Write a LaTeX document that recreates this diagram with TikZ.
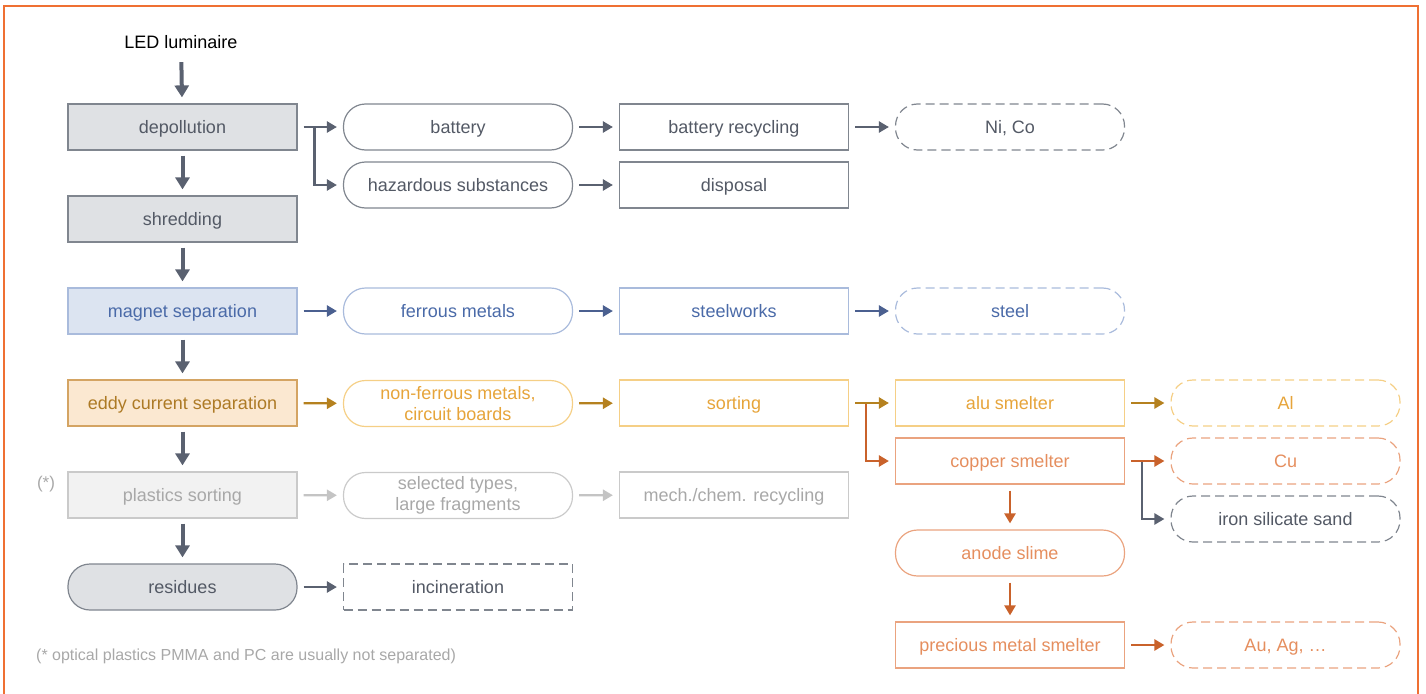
\documentclass[tikz,border=0pt]{standalone}
\usepackage{fontspec}
\setmainfont{Liberation Sans}
\usetikzlibrary{arrows.meta}
\definecolor{frame}{HTML}{EF7033}
\definecolor{gline}{HTML}{80868F}
\definecolor{gfill}{HTML}{DFE1E4}
\definecolor{gtext}{HTML}{535965}
\definecolor{garrow}{HTML}{5A6170}
\definecolor{bline}{HTML}{A9BBDC}
\definecolor{bfill}{HTML}{DCE4F1}
\definecolor{btext}{HTML}{4A6AA8}
\definecolor{barrow}{HTML}{4B6090}
\definecolor{eline}{HTML}{D4A463}
\definecolor{efill}{HTML}{FBE8D1}
\definecolor{etext}{HTML}{AD7A25}
\definecolor{yline}{HTML}{F5CF86}
\definecolor{ytext}{HTML}{E6A43A}
\definecolor{yarrow}{HTML}{B5811F}
\definecolor{cline}{HTML}{EAA37F}
\definecolor{ctext}{HTML}{E58E5E}
\definecolor{carrow}{HTML}{C9622B}
\definecolor{pline}{HTML}{CACACA}
\definecolor{pfill}{HTML}{F2F2F2}
\definecolor{ptext}{HTML}{A8A8A8}
\definecolor{parrow}{HTML}{C4C4C4}
\begin{document}
\begin{tikzpicture}[x=1pt,y=-1pt,
  box/.style={draw, rectangle, minimum width=229pt, minimum height=46pt, inner sep=0pt,
    line width=1.2pt, font=\fontsize{18}{21.5}\selectfont, align=center,
    text height=16.8pt, text depth=3.9pt},
  twoline/.style={text height={}, text depth={}},
  pill/.style={box, rounded corners=22pt},
  dsh/.style={dash pattern=on 9pt off 5pt},
  arr/.style={line width=2.4pt, -{Triangle[length=10pt,width=11pt]}, shorten >=6pt, shorten <=6pt},
  barr/.style={line width=2.4pt, -{Triangle[length=10pt,width=11pt]}, shorten >=6pt},
  varr/.style={line width=4pt, -{Triangle[length=12pt,width=14pt]}, shorten >=6pt, shorten <=5pt},
  gbox/.style={draw=gline, fill=gfill, text=gtext},
  gwbox/.style={draw=gline, text=gtext},
  bbox/.style={draw=bline, fill=bfill, text=btext},
  bwbox/.style={draw=bline, text=btext},
  ebox/.style={draw=eline, fill=efill, text=etext},
  ybox/.style={draw=yline, text=ytext},
  cbox/.style={draw=cline, text=ctext},
  pbox/.style={draw=pline, fill=pfill, text=ptext},
  pwbox/.style={draw=pline, text=ptext},
]
\useasboundingbox (0,0) rectangle (1426,693);
\draw[frame, line width=2pt] (4,695) -- (4,6) -- (1418,6) -- (1418,695);

% column 1
\node[font=\fontsize{18}{21}\selectfont] (led) at (181,42) {LED luminaire};
\node[box, gbox] (dep) at (182.5,127) {depollution};
\node[box, gbox] (shr) at (182.5,219) {shredding};
\node[box, bbox] (mag) at (182.5,311) {magnet separation};
\node[box, ebox] (edd) at (182.5,403) {eddy current separation};
\node[box, pbox] (pla) at (182.5,495) {plastics sorting};
\node[pill, gbox] (res) at (182.5,587) {residues};
\node[text=ptext, font=\fontsize{17}{20}\selectfont] (star) at (46,484) {(*)};
\node[text=ptext, font=\fontsize{16}{19}\selectfont, anchor=west, inner sep=0pt] (foot) at (36,656) {(* optical plastics PMMA and PC are usually not separated)};

% column 2
\node[pill, gwbox] (bat) at (458,127) {battery};
\node[pill, gwbox] (haz) at (458,185) {hazardous substances};
\node[pill, bwbox] (fer) at (458,311) {ferrous metals};
\node[pill, ybox, twoline] (nfm) at (458,403.5) {non-ferrous metals,\\circuit boards};
\node[pill, pwbox, twoline] (sel) at (458,495.5) {selected types,\\large fragments};
\node[box, gwbox, dsh] (inc) at (458,587) {incineration};

% column 3
\node[box, gwbox] (brec) at (734,127) {battery recycling};
\node[box, gwbox] (dis) at (734,185) {disposal};
\node[box, bwbox] (stw) at (734,311) {steelworks};
\node[box, ybox] (sor) at (734,403) {sorting};
\node[box, pwbox] (mech) at (734,495) {mech./chem. recycling};

% column 4
\node[pill, gwbox, dsh] (nico) at (1010,127) {Ni, Co};
\node[pill, bwbox, dsh] (stl) at (1010,311) {steel};
\node[box, ybox] (alu) at (1010,403) {alu smelter};
\node[box, cbox] (cop) at (1010,461) {copper smelter};
\node[pill, cbox] (ano) at (1010,553) {anode slime};
\node[box, cbox] (pre) at (1010,645) {precious metal smelter};

% column 5
\node[pill, ybox, dsh] (al) at (1285.5,403) {Al};
\node[pill, cbox, dsh] (cu) at (1285.5,461) {Cu};
\node[pill, gwbox, dsh] (fes) at (1285.5,519) {iron silicate sand};
\node[pill, cbox, dsh] (au) at (1285.5,645) {Au, Ag, \dots};

% vertical arrows column 1
\draw[varr, garrow, shorten <=10pt] (led) -- (dep);
\draw[varr, garrow] (dep) -- (shr);
\draw[varr, garrow] (shr) -- (mag);
\draw[varr, garrow] (mag) -- (edd);
\draw[varr, garrow] (edd) -- (pla);
\draw[varr, garrow] (pla) -- (res);

% gray rows
\draw[barr, garrow] ([xshift=17pt]dep.east) |- (haz.west);
\draw[arr, garrow] (dep) -- (bat);
\draw[arr, garrow] (bat) -- (brec);
\draw[arr, garrow] (haz) -- (dis);
\draw[arr, garrow] (brec) -- (nico);
\draw[arr, garrow] (res) -- (inc);

% blue row
\draw[arr, barrow] (mag) -- (fer);
\draw[arr, barrow] (fer) -- (stw);
\draw[arr, barrow] (stw) -- (stl);

% gold / copper rows
\draw[arr, yarrow] (edd) -- (nfm);
\draw[arr, yarrow] (nfm) -- (sor);
\draw[barr, carrow] ([xshift=17pt]sor.east) |- (cop.west);
\draw[arr, yarrow] (sor) -- (alu);
\draw[arr, yarrow] (alu) -- (al);
\draw[barr, garrow] ([xshift=17pt]cop.east) |- (fes.west);
\draw[arr, carrow] (cop) -- (cu);
\draw[arr, carrow] (cop) -- (ano);
\draw[arr, carrow] (ano) -- (pre);
\draw[arr, carrow] (pre) -- (au);

% plastics row
\draw[arr, parrow] (pla) -- (sel);
\draw[arr, parrow] (sel) -- (mech);
\end{tikzpicture}
\end{document}
